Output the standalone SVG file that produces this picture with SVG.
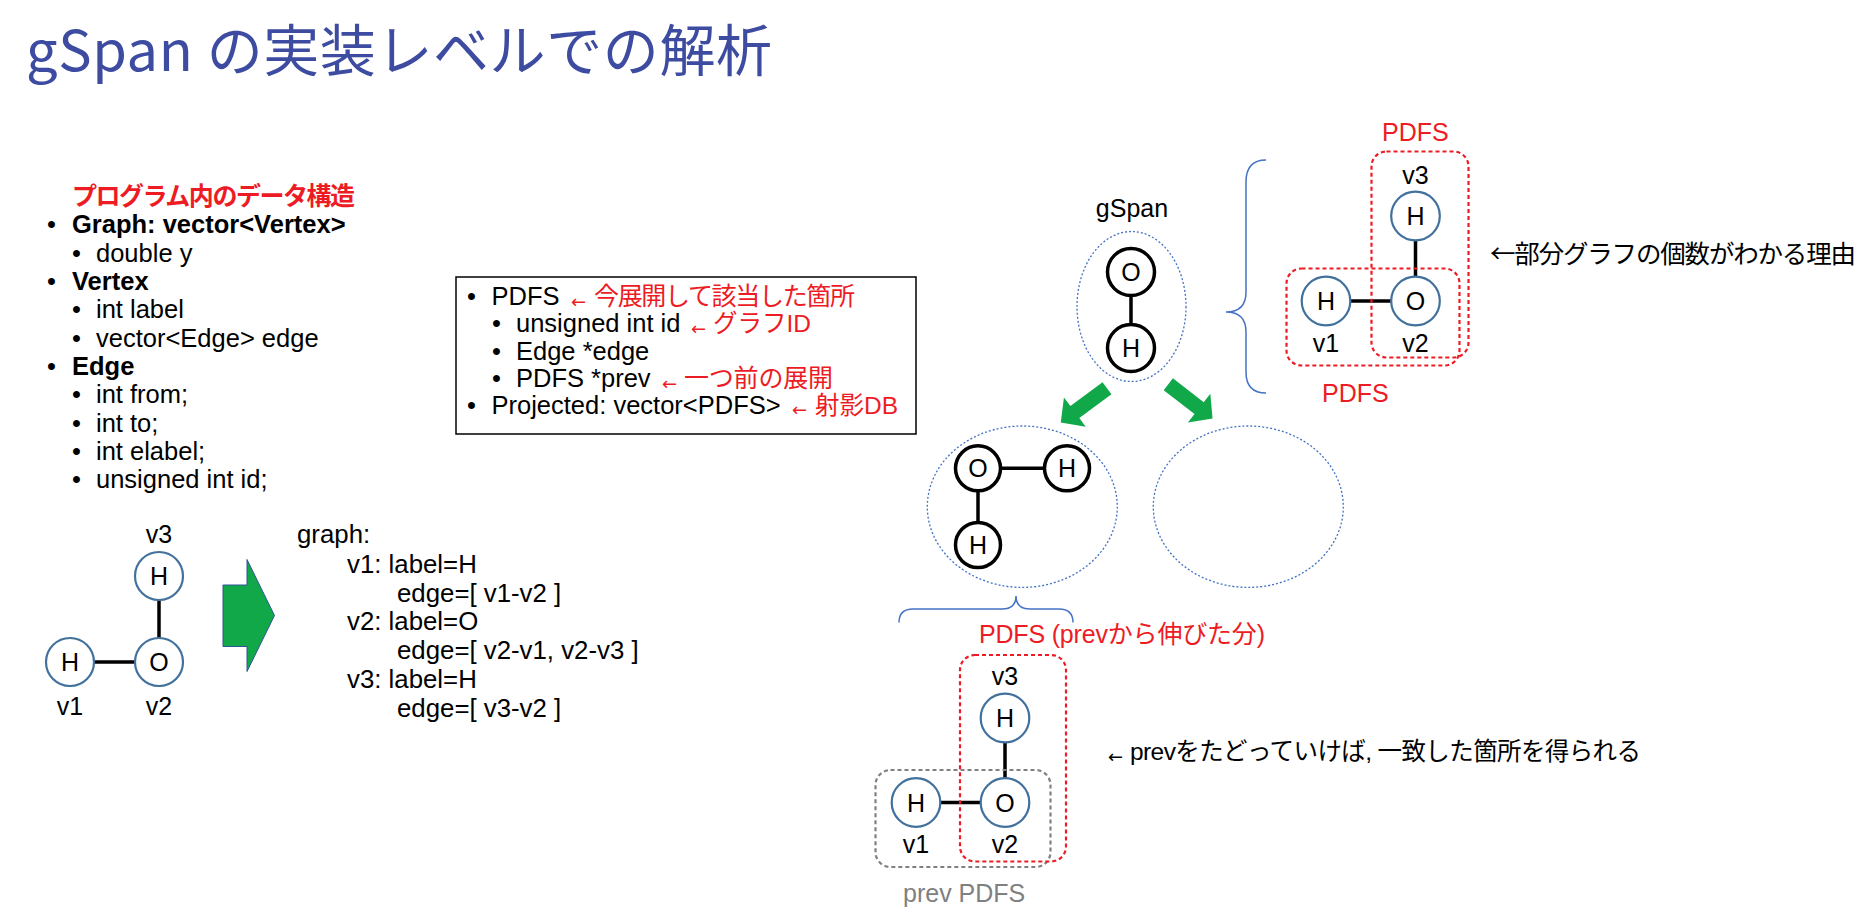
<svg xmlns="http://www.w3.org/2000/svg" width="1870" height="920" viewBox="0 0 1870 920">
  <defs>
    <style>
      .t { font-family: "Liberation Sans", "Noto Sans CJK JP", sans-serif; font-size: 25.5px; fill: #000; }
      .ls { font-size: 25.8px; }
      .lbl { font-size: 25px; }
      .b { font-weight: bold; }
      .red { fill: #ED1C24; }
      .jp { font-family: "Noto Sans CJK JP", sans-serif; }
      .sarrow { font-family: "DejaVu Sans", sans-serif; font-size: 18px; fill: #ED1C24; }
      .mid { text-anchor: middle; }
      .node { fill: #fff; stroke: #41719C; stroke-width: 2.2; }
      .bnode { fill: #fff; stroke: #000; stroke-width: 3.5; }
      .edge { stroke: #000; stroke-width: 3.5; fill: none; }
      .dotted { fill: none; stroke: #4472C4; stroke-width: 1.3; stroke-dasharray: 2 2; }
      .brace { fill: none; stroke: #4472C4; stroke-width: 1.5; }
      .rbox { fill: none; stroke: #ED1C24; stroke-width: 2.2; stroke-dasharray: 4 3; }
      .gbox { fill: none; stroke: #808080; stroke-width: 2.2; stroke-dasharray: 4 3; }
      .green { fill: #11A84A; }
    </style>
  </defs>

  <rect width="1870" height="920" fill="#fff"/>

  <!-- title -->
  <text id="title" x="26" y="71" font-family="'Noto Sans CJK JP', sans-serif" font-size="56" fill="#3D4BA0" textLength="746">gSpan の実装レベルでの解析</text>

  <!-- data structures list -->
  <g id="data-structures">
    <text class="t b red" x="72" y="205" style="font-size:25px" textLength="283">プログラム内のデータ構造</text>
    <text class="t" x="47" y="233">•</text><text class="t b" x="72" y="233">Graph: vector&lt;Vertex&gt;</text>
    <text class="t" x="72" y="261.5">•</text><text class="t" x="96" y="261.5">double y</text>
    <text class="t" x="47" y="290">•</text><text class="t b" x="72" y="290">Vertex</text>
    <text class="t" x="72" y="318">•</text><text class="t" x="96" y="318">int label</text>
    <text class="t" x="72" y="346.5">•</text><text class="t" x="96" y="346.5">vector&lt;Edge&gt; edge</text>
    <text class="t" x="47" y="375">•</text><text class="t b" x="72" y="375">Edge</text>
    <text class="t" x="72" y="403">•</text><text class="t" x="96" y="403">int from;</text>
    <text class="t" x="72" y="431.5">•</text><text class="t" x="96" y="431.5">int to;</text>
    <text class="t" x="72" y="460">•</text><text class="t" x="96" y="460">int elabel;</text>
    <text class="t" x="72" y="488">•</text><text class="t" x="96" y="488">unsigned int id;</text>
  </g>

  <!-- PDFS structure box -->
  <g id="pdfs-box">
    <rect x="456" y="277" width="460" height="157" fill="#fff" stroke="#000" stroke-width="1.5"/>
    <text class="t" x="467" y="305">•</text><text class="t" x="491.5" y="305">PDFS</text>
    <text class="sarrow" x="571" y="307.5">←</text>
    <text class="t red" x="594" y="305" style="font-size:25px" textLength="261">今展開して該当した箇所</text>

    <text class="t" x="492" y="332">•</text><text class="t" x="516" y="332">unsigned int id</text>
    <text class="sarrow" x="691" y="334.5">←</text>
    <text class="t red" x="713" y="332" style="font-size:24.5px">グラフID</text>

    <text class="t" x="492" y="360">•</text><text class="t" x="516" y="360">Edge *edge</text>

    <text class="t" x="492" y="387">•</text><text class="t" x="516" y="387">PDFS *prev</text>
    <text class="sarrow" x="662" y="389.5">←</text>
    <text class="t red" x="684" y="387" style="font-size:25px" textLength="149">一つ前の展開</text>

    <text class="t" x="467" y="413.5">•</text><text class="t" x="491.5" y="413.5">Projected: vector&lt;PDFS&gt;</text>
    <text class="sarrow" x="792" y="416">←</text>
    <text class="t red" x="815" y="413.5" style="font-size:24.5px">射影DB</text>
  </g>

  <!-- input graph (left) -->
  <g id="left-edges">
    <line class="edge" x1="159" y1="600" x2="159" y2="638"/>
    <line class="edge" x1="94" y1="662" x2="135" y2="662"/>
  </g>
  <g id="left-v3">
    <circle class="node" cx="159" cy="576" r="24"/>
    <text class="t lbl mid" x="159" y="585">H</text>
    <text class="t lbl mid" x="159" y="543">v3</text>
  </g>
  <g id="left-v2">
    <circle class="node" cx="159" cy="662" r="24"/>
    <text class="t lbl mid" x="159" y="671">O</text>
    <text class="t lbl mid" x="159" y="715">v2</text>
  </g>
  <g id="left-v1">
    <circle class="node" cx="70" cy="662" r="24"/>
    <text class="t lbl mid" x="70" y="671">H</text>
    <text class="t lbl mid" x="70" y="715">v1</text>
  </g>

  <!-- conversion arrow -->
  <g id="convert-arrow">
    <polygon class="green" stroke="#2F5597" stroke-width="1" points="223,585 247,585 247,559.5 274.5,615.5 247,671.5 247,646.5 223,646.5"/>
  </g>

  <!-- adjacency listing -->
  <g id="graph-listing">
    <text class="t ls" x="297" y="543">graph:</text>
    <text class="t ls" x="347" y="572.5">v1: label=H</text>
    <text class="t ls" x="397" y="601.5">edge=[ v1-v2 ]</text>
    <text class="t ls" x="347" y="630">v2: label=O</text>
    <text class="t ls" x="397" y="659">edge=[ v2-v1, v2-v3 ]</text>
    <text class="t ls" x="347" y="688">v3: label=H</text>
    <text class="t ls" x="397" y="717">edge=[ v3-v2 ]</text>
  </g>

  <!-- gSpan search tree -->
  <g id="gspan-root">
    <text class="t lbl mid" x="1132" y="216.5">gSpan</text>
    <ellipse class="dotted" cx="1131.5" cy="306.5" rx="54.5" ry="75"/>
    <line class="edge" x1="1131" y1="296" x2="1131" y2="324"/>
    <circle class="bnode" cx="1131" cy="272" r="23.5"/>
    <text class="t lbl mid" x="1131" y="281">O</text>
    <circle class="bnode" cx="1131" cy="348" r="23.5"/>
    <text class="t lbl mid" x="1131" y="357">H</text>
  </g>

  <g id="tree-arrows">
    <polygon class="green" points="0,-7.5 40,-7.5 40,-18.3 57.5,0 40,18.3 40,7.5 0,7.5" transform="translate(1107,388.3) rotate(143.5)"/>
    <polygon class="green" points="0,-7.5 39,-7.5 39,-18.3 56,0 39,18.3 39,7.5 0,7.5" transform="translate(1168.3,384.2) rotate(37.8)"/>
  </g>

  <g id="child-ohh">
    <ellipse class="dotted" cx="1022.3" cy="506.7" rx="95" ry="80.7"/>
    <line class="edge" x1="1000" y1="468.3" x2="1044" y2="468.3"/>
    <line class="edge" x1="978" y1="491" x2="978" y2="522"/>
    <circle class="bnode" cx="978" cy="468.3" r="22.5"/>
    <text class="t lbl mid" x="978" y="477.3">O</text>
    <circle class="bnode" cx="1067" cy="468.3" r="22.5"/>
    <text class="t lbl mid" x="1067" y="477.3">H</text>
    <circle class="bnode" cx="978" cy="545" r="22.5"/>
    <text class="t lbl mid" x="978" y="554">H</text>
  </g>

  <g id="child-empty">
    <ellipse class="dotted" cx="1248.3" cy="506.7" rx="95" ry="80.7"/>
  </g>

  <!-- braces -->
  <g id="braces">
    <path class="brace" d="M1266,160 Q1246,160 1246,182 L1246,292 Q1246,312 1226,312 Q1246,312 1246,332 L1246,372 Q1246,393 1266,393"/>
    <path class="brace" d="M899,622.5 Q899,609 913,609 L1002,609 Q1016,609 1016,596 Q1016,609 1030,609 L1059,609 Q1073,609 1073,622.5"/>
  </g>

  <!-- occurrences of the pattern in the input graph -->
  <g id="occurrence-graph">
    <line class="edge" x1="1415.5" y1="240" x2="1415.5" y2="277"/>
    <line class="edge" x1="1350.5" y1="301" x2="1391" y2="301"/>
    <circle class="node" cx="1415.5" cy="216" r="24.3"/>
    <text class="t lbl mid" x="1415.5" y="225">H</text>
    <text class="t lbl mid" x="1415.5" y="183.5">v3</text>
    <circle class="node" cx="1415.5" cy="301" r="24.3"/>
    <text class="t lbl mid" x="1415.5" y="310">O</text>
    <text class="t lbl mid" x="1415.5" y="352">v2</text>
    <circle class="node" cx="1326" cy="301" r="24.3"/>
    <text class="t lbl mid" x="1326" y="310">H</text>
    <text class="t lbl mid" x="1326" y="352">v1</text>
    <rect class="rbox" x="1371.5" y="151.5" width="97" height="206" rx="15"/>
    <rect class="rbox" x="1286.5" y="268.5" width="173" height="97" rx="15"/>
    <text class="t lbl red" x="1382" y="140.5">PDFS</text>
    <text class="t lbl red" x="1322" y="401.5">PDFS</text>
  </g>
  <text id="note-count" class="jp" x="1490" y="263" font-size="25.5" fill="#000" textLength="366">←部分グラフの個数がわかる理由</text>

  <!-- prev chain illustration -->
  <text id="label-extended" class="t lbl red" x="979" y="643" textLength="286">PDFS (prevから伸びた分)</text>
  <g id="prev-graph">
    <line class="edge" x1="1005" y1="742" x2="1005" y2="778"/>
    <line class="edge" x1="940.5" y1="802.5" x2="980.5" y2="802.5"/>
    <circle class="node" cx="1005" cy="718" r="24.3"/>
    <text class="t lbl mid" x="1005" y="727">H</text>
    <text class="t lbl mid" x="1005" y="685">v3</text>
    <circle class="node" cx="1005" cy="802.5" r="24.3"/>
    <text class="t lbl mid" x="1005" y="811.5">O</text>
    <text class="t lbl mid" x="1005" y="853">v2</text>
    <circle class="node" cx="916" cy="802.5" r="24.3"/>
    <text class="t lbl mid" x="916" y="811.5">H</text>
    <text class="t lbl mid" x="916" y="853">v1</text>
    <rect class="gbox" x="875.5" y="770" width="175" height="97" rx="15"/>
    <rect class="rbox" x="960" y="655" width="106" height="206.5" rx="15"/>
    <text class="t lbl" x="903" y="901.5" style="fill:#808080">prev PDFS</text>
  </g>
  <g id="note-prev">
    <text x="1108" y="762.5" font-family="'DejaVu Sans', sans-serif" font-size="18" fill="#000">←</text>
    <text class="t" x="1130" y="760" style="font-size:24.5px" textLength="511">prevをたどっていけば, 一致した箇所を得られる</text>
  </g>
</svg>
